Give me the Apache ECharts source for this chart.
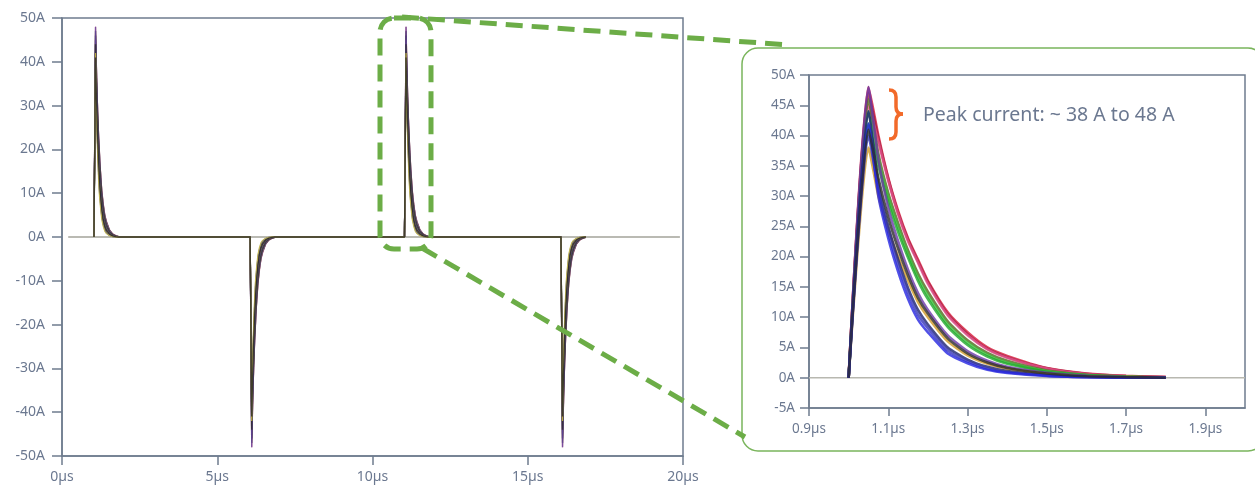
<!DOCTYPE html>
<html>
<head>
<meta charset="utf-8">
<script src="https://cdn.jsdelivr.net/npm/echarts@6/dist/echarts.min.js"></script>
<style>
  html, body { margin: 0; padding: 0; background: #fff; }
  #chart { width: 1255px; height: 486px; }
</style>
</head>
<body>
<div id="chart"></div>
<script>
// time points (µs) of one pulse
var pulseTimes = [1.0, 1.05, 1.075, 1.1, 1.125, 1.15, 1.175, 1.2, 1.25, 1.3, 1.35, 1.4, 1.5, 1.6, 1.7, 1.8];

// current (A) of each trace at those times
var traceBlue   = [0, 42, 30, 23, 17.5, 13, 9.6, 7.5, 4.0, 2.4, 1.3, 0.8, 0.3, 0.1, 0, 0];
var traceBlue2  = [0, 40, 31, 24, 18.5, 14, 10.4, 8.2, 4.5, 2.7, 1.5, 0.9, 0.35, 0.1, 0, 0];
var traceNavy   = [0, 44, 32, 25, 19.5, 14.8, 11.2, 8.8, 5.0, 3.0, 1.8, 1.1, 0.4, 0.15, 0.05, 0];
var traceOrange = [0, 38, 30, 24.5, 20, 16, 12.5, 10, 6.0, 3.7, 2.3, 1.5, 0.6, 0.2, 0.1, 0];
var traceBlack  = [0, 41, 33, 26.5, 21.3, 16.9, 13.2, 10.6, 6.5, 4.0, 2.5, 1.6, 0.7, 0.25, 0.1, 0];
var tracePurple = [0, 48, 36, 28, 22.5, 17.8, 14, 11.2, 7.0, 4.4, 2.8, 1.8, 0.8, 0.3, 0.1, 0];
var traceGreen  = [0, 42, 35, 29, 24, 19.8, 16, 13, 8.4, 5.4, 3.5, 2.3, 1.0, 0.4, 0.15, 0];
var traceGreen2 = [0, 44, 36, 29.8, 24.8, 20.4, 16.6, 13.6, 8.8, 5.8, 3.8, 2.5, 1.1, 0.45, 0.18, 0];
var traceOlive  = [0, 46, 37, 30.5, 25.5, 21, 17.2, 14.2, 9.3, 6.2, 4.1, 2.8, 1.2, 0.5, 0.2, 0.05];
var tracePink   = [0, 45, 39, 32.5, 27, 22.5, 19, 15.5, 10.3, 7.0, 4.7, 3.3, 1.5, 0.6, 0.25, 0.1];
var traceMaroon = [0, 47, 39.5, 32.8, 27.2, 22.8, 19.2, 15.8, 10.5, 7.2, 4.8, 3.4, 1.55, 0.65, 0.28, 0.1];
var traceRed    = [0, 48, 40, 33, 27.5, 23, 19.5, 16, 10.8, 7.5, 5.0, 3.6, 1.6, 0.7, 0.3, 0.1];

var traces = [traceRed, traceMaroon, tracePink, traceOlive, traceGreen2, traceGreen, tracePurple,
    traceOrange, traceNavy, traceBlue2, traceBlue, traceBlack];
var insetColors = ['#d81838', '#a02040', '#e0508a', '#55651f', '#3cc03c', '#1fa82a', '#6a3aa8',
    '#d09a28', '#1c2270', '#3434b8', '#2626e0', '#2a2a2a'];
var mainColors  = ['#b03a5a', '#2a2a2a', '#8a6aa0', '#1e1e1e', '#505050', '#3a3a3a', '#6848a8',
    '#c8b028', '#2a2a2a', '#3a3aa0', '#d2c440', '#222222'];

// pulse starts in the full record (µs) and their polarity
var pulseStarts = [1.03, 6.06, 11.03, 16.07];
var pulseSigns = [1, -1, 1, -1];

var mainBaseline = [[0.2, 0], [19.9, 0]];
var insetBaseline = [[0.9, 0], [2.0, 0]];

var axisColor = '#6f7c8e';
var textColor = '#6b7890';
var fontFamily = 'Noto Sans';
var green = '#6cad47';
var orange = '#f26a2a';

var series = [];

series.push({
    type: 'line', xAxisIndex: 0, yAxisIndex: 0, symbol: 'none',
    lineStyle: {color: '#a3a39a', width: 1.5},
    data: mainBaseline
});

traces.forEach(function(tr, i) {
    var pts = [];
    pulseStarts.forEach(function(s, p) {
        pulseTimes.forEach(function(t, k) {
            pts.push([s + (t - pulseTimes[0]), pulseSigns[p] * tr[k]]);
        });
    });
    series.push({
        type: 'line', xAxisIndex: 0, yAxisIndex: 0, symbol: 'none',
        lineStyle: {color: mainColors[i], width: 1.3, opacity: 0.8},
        data: pts
    });
});

series.push({
    type: 'line', xAxisIndex: 1, yAxisIndex: 1, symbol: 'none',
    lineStyle: {color: '#b8b8b0', width: 1.5},
    data: insetBaseline
});

traces.forEach(function(tr, i) {
    series.push({
        type: 'line', xAxisIndex: 1, yAxisIndex: 1, symbol: 'none', smooth: 0.2,
        lineStyle: {color: insetColors[i], width: 2.6, opacity: 0.8},
        data: pulseTimes.map(function(t, k) { return [t, tr[k]]; })
    });
});

// curly brace next to the peak
function braceCurve(x1, y1, cx, cy, x2, y2) {
    return {type: 'bezierCurve', z: 100,
        shape: {x1: x1, y1: y1, cpx1: cx, cpy1: cy, x2: x2, y2: y2},
        style: {fill: 'none', stroke: orange, lineWidth: 3.5}};
}
function braceLine(x1, y1, x2, y2) {
    return {type: 'line', z: 100,
        shape: {x1: x1, y1: y1, x2: x2, y2: y2},
        style: {stroke: orange, lineWidth: 3.5}};
}

var myChart = echarts.init(document.getElementById('chart'));

var option = {
    animation: false,
    backgroundColor: '#fff',
    textStyle: {fontFamily: fontFamily},
    grid: [
        {left: 62, top: 18, right: 572, bottom: 30, show: true, borderColor: axisColor, borderWidth: 1.5, z: 3},
        {left: 809, top: 75, right: 10, bottom: 78, show: true, borderColor: axisColor, borderWidth: 1.5, z: 3}
    ],
    xAxis: [
        {
            gridIndex: 0, type: 'value', min: 0, max: 20, interval: 5,
            axisLine: {onZero: false, lineStyle: {color: axisColor, width: 1.5}},
            axisTick: {length: 9, lineStyle: {color: axisColor, width: 1.5}},
            axisLabel: {color: textColor, fontSize: 14, margin: 14, formatter: '{value}µs'},
            splitLine: {show: false}
        },
        {
            gridIndex: 1, type: 'value', min: 0.9, max: 2.0, interval: 0.2,
            axisLine: {onZero: false, lineStyle: {color: axisColor, width: 1.5}},
            axisTick: {length: 8, lineStyle: {color: axisColor, width: 1.5}},
            axisLabel: {color: textColor, fontSize: 13.5, margin: 14, showMaxLabel: false,
                formatter: function(v) { return v.toFixed(1) + 'µs'; }},
            splitLine: {show: false}
        }
    ],
    yAxis: [
        {
            gridIndex: 0, type: 'value', min: -50, max: 50, interval: 10,
            axisLine: {onZero: false, lineStyle: {color: axisColor, width: 1.5}},
            axisTick: {length: 10, lineStyle: {color: axisColor, width: 1.5}},
            axisLabel: {color: textColor, fontSize: 14, margin: 17, formatter: '{value}A'},
            splitLine: {show: false}
        },
        {
            gridIndex: 1, type: 'value', min: -5, max: 50, interval: 5,
            axisLine: {onZero: false, lineStyle: {color: axisColor, width: 1.5}},
            axisTick: {length: 9, lineStyle: {color: axisColor, width: 1.5}},
            axisLabel: {color: textColor, fontSize: 13.5, margin: 14, formatter: '{value}A'},
            splitLine: {show: false}
        }
    ],
    graphic: [
        {
            type: 'rect', z: -10,
            shape: {x: 742, y: 48, width: 522, height: 403, r: 16},
            style: {fill: '#fff', stroke: '#7ab55c', lineWidth: 1.5}
        },
        {
            type: 'rect', z: 100,
            shape: {x: 380, y: 18, width: 51, height: 231, r: 14},
            style: {fill: 'none', stroke: green, lineWidth: 5, lineDash: [17, 9]}
        },
        {
            type: 'line', z: 100,
            shape: {x1: 402, y1: 17, x2: 789, y2: 45},
            style: {stroke: green, lineWidth: 5, lineDash: [17, 9]}
        },
        {
            type: 'line', z: 100,
            shape: {x1: 422, y1: 248, x2: 745, y2: 437},
            style: {stroke: green, lineWidth: 5, lineDash: [17, 9]}
        },
        braceCurve(889, 90, 896, 90, 896, 97),
        braceLine(896, 97, 896, 107),
        braceCurve(896, 107, 896, 114, 903, 114),
        braceCurve(903, 114, 896, 114, 896, 121),
        braceLine(896, 121, 896, 132),
        braceCurve(896, 132, 896, 139, 889, 139),
        {
            type: 'text', z: 100, x: 923, y: 115,
            style: {text: 'Peak current: ~ 38 A to 48 A', fill: textColor, fontSize: 19.5,
                fontFamily: fontFamily, verticalAlign: 'middle'}
        }
    ],
    series: series
};

myChart.setOption(option);
</script>
</body>
</html>
